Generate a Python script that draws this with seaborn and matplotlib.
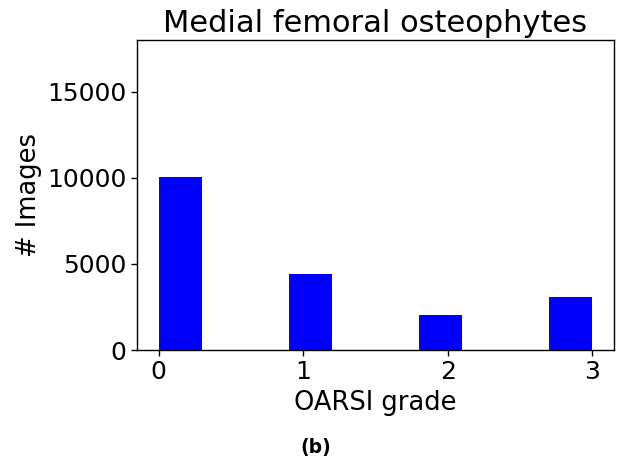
import matplotlib
matplotlib.use("Agg")
import matplotlib.pyplot as plt
import seaborn as sns
import pandas as pd

grades = [0, 1, 2, 3]
counts = [10046, 4413, 2032, 3078]
title = "Medial femoral osteophytes"
xlabel = "OARSI grade"
ylabel = "# Images"
caption = "(b)"

sns.set_style("ticks")
plt.rcParams['font.family'] = ['DejaVu Sans']
plt.rcParams['text.color'] = 'black'
plt.rcParams['axes.labelcolor'] = 'black'

df = pd.DataFrame({"grade": grades, "count": counts})

fig = plt.figure(figsize=(6.18, 4.66), dpi=100)
ax = fig.add_axes([137/618, 116/466, (614-137)/618, (350-40)/466])
sns.histplot(data=df, x="grade", weights="count", bins=10, binrange=(0, 3),
             color="#0000ff", alpha=1, edgecolor="none", linewidth=0, ax=ax)
ax.set_ylim(0, 18000)
ax.set_xticks([0, 1, 2, 3])
ax.set_yticks([0, 5000, 10000, 15000])
ax.tick_params(labelsize=18, length=4, width=1, colors="black", labelcolor="black")
ax.set_title(title, fontsize=22, color="black")
ax.set_xlabel(xlabel, fontsize=18.5, color="black")
ax.set_ylabel(ylabel, fontsize=18.5, color="black")
for s in ax.spines.values():
    s.set_visible(True)
    s.set_color("black")
    s.set_linewidth(1)
fig.text(316/618, 1 - 448/466, caption, fontsize=13.5, fontweight="bold",
         ha="center", va="center", color="black")
fig.savefig("out.png", dpi=100)
